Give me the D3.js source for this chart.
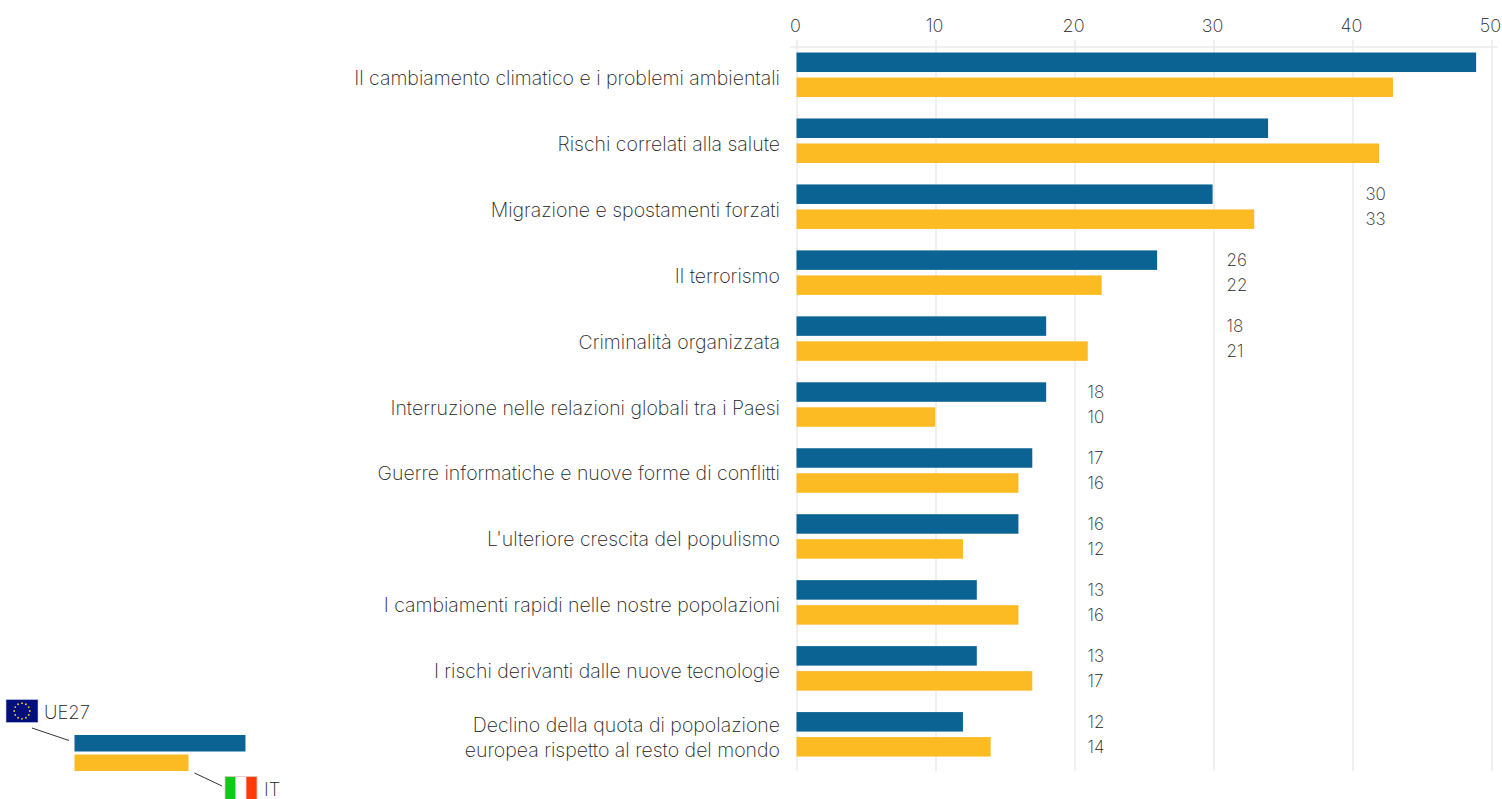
<!DOCTYPE html>
<html>
<head>
<meta charset="utf-8">
<script src="https://cdn.jsdelivr.net/npm/d3@7"></script>
<style>
  html, body { margin: 0; padding: 0; background: #fff; overflow: hidden; }
  text { font-family: "Inter", sans-serif; font-weight: 250; fill: #222; }
</style>
</head>
<body>
<script>
// Chart data
const categories = [
    ["Il cambiamento climatico e i problemi ambientali"],
    ["Rischi correlati alla salute"],
    ["Migrazione e spostamenti forzati"],
    ["Il terrorismo"],
    ["Criminalità organizzata"],
    ["Interruzione nelle relazioni globali tra i Paesi"],
    ["Guerre informatiche e nuove forme di conflitti"],
    ["L'ulteriore crescita del populismo"],
    ["I cambiamenti rapidi nelle nostre popolazioni"],
    ["I rischi derivanti dalle nuove tecnologie"],
    ["Declino della quota di popolazione", "europea rispetto al resto del mondo"]
];
const ue27 = [49, 34, 30, 26, 18, 18, 17, 16, 13, 13, 12];
const it = [43, 42, 33, 22, 21, 10, 16, 12, 16, 17, 14];
const axisTicks = [0, 10, 20, 30, 40, 50];
const legendNames = ["UE27", "IT"];
const legendValues = [12.3, 8.2];

const width = 1502;
const height = 799;
const blue = "#0b6394";
const yellow = "#fcbb22";
const gridColor = "#ebebeb";

const svg = d3.select("body").append("svg")
    .attr("width", width)
    .attr("height", height)
    .attr("viewBox", [0, 0, width, height])
    .style("display", "block");

// Scales: the bars run a touch shorter than the gridlines in the original
const x = d3.scaleLinear().domain([0, 50]).range([796.5, 1491.5]);
const xBar = d3.scaleLinear().domain([0, 50]).range([796.5, 1490]);
const y = d3.scaleBand()
    .domain(d3.range(categories.length))
    .range([41.8, 767.3])
    .paddingInner(0)
    .paddingOuter(0);
const rowH = y.bandwidth();
const barH = 19.5;
const barGap = 5.5;
const top0 = (rowH - 2 * barH - barGap) / 2;

// Axis on top with the ticks stretched into gridlines
const axis = svg.append("g")
    .attr("transform", "translate(0,40)")
    .call(d3.axisTop(x).tickValues(axisTicks).tickSize(-731).tickPadding(-3));
axis.select(".domain").remove();
axis.selectAll("line").attr("stroke", gridColor).attr("stroke-width", 1.5);
axis.selectAll("text")
    .attr("font-size", 18)
    .attr("dx", -1.5)
    .attr("y", -8);

svg.append("line")
    .attr("x1", 790).attr("x2", 1498)
    .attr("y1", 47).attr("y2", 47)
    .attr("stroke", gridColor)
    .attr("stroke-width", 1.5);

// One group per category
const row = svg.append("g")
    .selectAll("g")
    .data(categories.map((c, i) => ({ lines: c, a: ue27[i], b: it[i] })))
    .join("g")
    .attr("transform", (d, i) => `translate(0,${y(i)})`);

row.append("rect")
    .attr("x", xBar(0))
    .attr("y", top0)
    .attr("width", d => xBar(d.a) - xBar(0))
    .attr("height", barH)
    .attr("fill", blue);

row.append("rect")
    .attr("x", xBar(0))
    .attr("y", top0 + barH + barGap)
    .attr("width", d => xBar(d.b) - xBar(0))
    .attr("height", barH)
    .attr("fill", yellow);

// Category labels, right aligned against the axis
const label = row.append("text")
    .attr("text-anchor", "end")
    .attr("font-size", 19.5)
    .attr("y", rowH / 2);
label.selectAll("tspan")
    .data(d => d.lines.map((t, i) => ({ t, i, n: d.lines.length })))
    .join("tspan")
    .attr("x", 780)
    .attr("dy", d => d.i === 0 ? (d.n === 1 ? 10 : -2) : 24.5)
    .text(d => d.t);

// Value labels sit one step past the next gridline; the ones past 50 fall off the page
const labelled = row.filter(d => Math.ceil(Math.max(d.a, d.b) / 10) * 10 < 50);
const labelX = d => x(Math.ceil(Math.max(d.a, d.b) / 10) * 10) + 13;
labelled.append("text")
    .attr("x", labelX)
    .attr("y", top0 + barH / 2 + 6)
    .attr("font-size", 17)
    .text(d => d.a);
labelled.append("text")
    .attr("x", labelX)
    .attr("y", top0 + barH + barGap + barH / 2 + 6)
    .attr("font-size", 17)
    .text(d => d.b);

// Legend
const legend = svg.append("g");
legend.append("rect")
    .attr("x", 74.5).attr("y", 735)
    .attr("width", x(legendValues[0]) - x(0)).attr("height", 16.5)
    .attr("fill", blue);
legend.append("rect")
    .attr("x", 74.5).attr("y", 754.5)
    .attr("width", x(legendValues[1]) - x(0)).attr("height", 16.5)
    .attr("fill", yellow);
legend.append("line")
    .attr("x1", 32).attr("y1", 728).attr("x2", 69).attr("y2", 740.5)
    .attr("stroke", "#333");
legend.append("line")
    .attr("x1", 194.5).attr("y1", 773).attr("x2", 222).attr("y2", 786)
    .attr("stroke", "#333");
legend.append("text")
    .attr("x", 44).attr("y", 719)
    .attr("font-size", 18.5)
    .text(legendNames[0]);
legend.append("text")
    .attr("x", 264).attr("y", 795.5)
    .attr("font-size", 18.5)
    .text(legendNames[1]);

// EU flag
const eu = legend.append("g").attr("transform", "translate(6,699.5)");
eu.append("rect").attr("width", 32).attr("height", 23).attr("fill", "#000f7c")
    .attr("stroke", "#c9cde6").attr("stroke-width", 0.6);
eu.selectAll("circle")
    .data(d3.range(12))
    .join("circle")
    .attr("cx", i => 16 + 7.8 * Math.sin(i * Math.PI / 6))
    .attr("cy", i => 11.5 - 7.8 * Math.cos(i * Math.PI / 6))
    .attr("r", 0.9)
    .attr("fill", "#f5d51c");

// Italian flag
const itFlag = legend.append("g").attr("transform", "translate(225,776.5)");
itFlag.selectAll("rect")
    .data(["#0ccb14", "#ffffff", "#ff3a06"])
    .join("rect")
    .attr("x", (d, i) => i * 32 / 3)
    .attr("width", 32 / 3)
    .attr("height", 23)
    .attr("fill", d => d);
itFlag.append("rect")
    .attr("width", 32).attr("height", 23)
    .attr("fill", "none")
    .attr("stroke", "#d8c8c4").attr("stroke-width", 0.8);
</script>
</body>
</html>
